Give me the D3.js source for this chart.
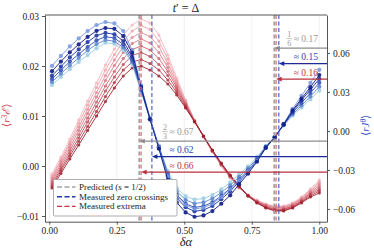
<!DOCTYPE html>
<html>
<head>
<meta charset="utf-8">
<script src="https://cdn.jsdelivr.net/npm/d3@7"></script>
<style>
  body { margin: 0; background: #fff; }
  text { font-family: "Liberation Serif", "DejaVu Serif", serif; }
</style>
</head>
<body>
<div id="chart"></div>
<script>
// sampled delta alpha values
const alphas = [0.01, 0.043, 0.076, 0.109, 0.142, 0.175, 0.208, 0.241, 0.274, 0.307,
                0.34, 0.373, 0.406, 0.439, 0.472, 0.505, 0.538, 0.571, 0.604, 0.637,
                0.67, 0.703, 0.736, 0.769, 0.802, 0.835, 0.868, 0.901, 0.934, 0.967, 1.0]

// <r J^theta> (right axis), in units of 1e-3
const blue0 = [50, 57.7, 65, 71.2, 76.9, 81.5, 83.8, 82.7, 76.9, 62, 35, 10, -13, -35, -50, -57, -60, -59, -56, -51, -45, -38, -31, -23, -13, -5, 5.5, 17, 27, 37, 47]
const blue1 = [46, 53.4, 60.5, 66.6, 72.3, 77, 79.2, 78.6, 73, 60, 34, 9, -13.7, -37.8, -55, -62.7, -66, -65, -61.6, -56, -49.5, -41, -32.9, -23.7, -13, -5, 5.2, 15.8, 24.8, 33.7, 43]
const blue2 = [42.5, 49.5, 56.6, 62.7, 68.4, 73.4, 75.4, 74.4, 69.2, 57, 33, 9.5, -13, -35.5, -51.5, -58.7, -61.8, -60.8, -57.7, -52.5, -46.4, -39, -31.5, -23, -12.7, -4.8, 5, 15, 23.5, 31.8, 40]
const blue3 = [40, 46.7, 53.3, 59.1, 64.6, 69.7, 72.5, 71.5, 66.5, 55, 32, 9.3, -12.5, -34, -49, -55.9, -58.8, -57.8, -54.9, -50, -44.1, -37.2, -30.4, -22.3, -12.5, -4.7, 4.7, 14, 21.6, 29.2, 37]
const blue4 = [37.7, 44, 50.4, 56.2, 61.9, 66.8, 70, 69, 64.2, 53, 31, 9, -12, -32.5, -46.5, -53, -55.8, -54.9, -52, -47.4, -41.9, -35.3, -28.8, -21.4, -12, -4.6, 4.5, 12.8, 19.6, 26.6, 34]
const blue5 = [35.4, 41.5, 47.5, 53.1, 58.4, 63.6, 67.9, 67, 62.3, 51.5, 30, 8.7, -11.4, -30.8, -44, -50.2, -52.8, -51.9, -49.3, -44.9, -39.6, -33.4, -27.3, -20.2, -11.4, -4.4, 4.3, 11.8, 18, 24.4, 31]

// <r^3 E> (left axis), in units of 1e-3
const red0 = [-1.6, 1.8, 5.4, 9.2, 13, 16.6, 20.2, 23.4, 26.2, 28.2, 29.4, 28.6, 26.2, 22.2, 17.6, 13.2, 9.2, 5.8, 2.8, 0, -2.4, -4.4, -5.8, -6.8, -7.6, -8, -8, -7.4, -6.2, -4.6, -2.8]
const red1 = [-2, 1.3, 4.8, 8.5, 12.2, 15.7, 19.2, 22.3, 25, 27, 28.1, 27.3, 25, 21.4, 17.1, 13, 9.1, 5.8, 2.9, 0.1, -2.3, -4.3, -5.8, -6.9, -7.7, -8.1, -8.1, -7.5, -6.4, -4.8, -3.2]
const red2 = [-2.4, 0.9, 4.3, 7.8, 11.3, 14.7, 18.1, 21.2, 23.9, 25.7, 26.7, 25.9, 23.9, 20.5, 16.6, 12.7, 9.1, 5.9, 2.9, 0.2, -2.2, -4.3, -5.9, -7, -7.8, -8.3, -8.3, -7.7, -6.5, -5.1, -3.5]
const red3 = [-2.8, 0.4, 3.7, 7.1, 10.5, 13.8, 17.1, 20.1, 22.7, 24.5, 25.4, 24.6, 22.7, 19.7, 16.1, 12.5, 9, 5.9, 3, 0.3, -2.1, -4.2, -5.9, -7.1, -7.9, -8.4, -8.4, -7.8, -6.7, -5.3, -3.9]
const red4 = [-3.2, -0.1, 3.1, 6.3, 9.6, 12.8, 16, 18.9, 21.5, 23.3, 24, 23.2, 21.5, 18.9, 15.7, 12.3, 9, 5.9, 3, 0.3, -2.1, -4.2, -5.9, -7.1, -8.1, -8.6, -8.6, -8, -6.9, -5.5, -4.3]
const red5 = [-3.6, -0.6, 2.5, 5.6, 8.8, 11.9, 15, 17.8, 20.3, 22.1, 22.7, 21.9, 20.3, 18.1, 15.2, 12.1, 8.9, 5.9, 3.1, 0.4, -2, -4.1, -5.9, -7.2, -8.2, -8.7, -8.7, -8.1, -7.1, -5.7, -4.7]
const red6 = [-4, -1, 2, 4.9, 7.9, 10.9, 13.9, 16.7, 19.2, 20.8, 21.3, 20.5, 19.2, 17.2, 14.7, 11.8, 8.9, 6, 3.1, 0.5, -1.9, -4.1, -6, -7.3, -8.3, -8.9, -8.9, -8.3, -7.2, -6, -5]
const red7 = [-4.4, -1.5, 1.4, 4.2, 7.1, 10, 12.9, 15.6, 18, 19.6, 20, 19.2, 18, 16.4, 14.2, 11.6, 8.8, 6, 3.2, 0.6, -1.8, -4, -6, -7.4, -8.4, -9, -9, -8.4, -7.4, -6.2, -5.4]

const blueSeries = [blue5, blue4, blue3, blue2, blue0, blue1]
const blueColors = ["#9ccfe4", "#5d86cc", "#3150b6", "#1d36a4", "#7898e0", "#0c1a86"]
const redSeries = [red0, red1, red2, red3, red4, red5, red6, red7]
const redColors = ["#f6b3bb", "#eea0aa", "#e48a96", "#d97582", "#cc5f6c", "#bf4856", "#b03240", "#9e1a28"]

const xTicks = [0, 0.25, 0.5, 0.75, 1]
const leftTicks = [-0.01, 0, 0.01, 0.02, 0.03]
const rightTicks = [-0.06, -0.03, 0, 0.03, 0.06]

// vertical markers
const predicted = [1 / 3, 5 / 6]
const zeroCrossings = [0.38, 0.85]
const extrema = [0.34, 0.84]

// arrows from the right edge to each marker
const arrowTargets = [5 / 6, 0.85, 0.84, 1 / 3, 0.38, 0.34]
const arrowKinds = ["grey", "blue", "red", "grey", "blue", "red"]
const arrowValues = ["0.17", "0.15", "0.16", "0.67", "0.62", "0.66"]
const arrowFractions = [["1", "6"], null, null, ["2", "3"], null, null]
const arrowLevels = [0.84, 0.765, 0.69, 0.39, 0.315, 0.24]   // axes fraction

const col = {
  grey: {line: "#8c8c8c", text: "#9a9a9a", dash: "#a3a3a3"},
  blue: {line: "#1a2b9c", text: "#2c40b8", dash: "#4f62d0"},
  red: {line: "#b8323c", text: "#c2323c", dash: "#d86a76"}
}

const W = 374, H = 249
const margin = {top: 15, right: 47, bottom: 27.3, left: 45},
      width = W - margin.left - margin.right,
      height = H - margin.top - margin.bottom

const svg = d3.select("#chart").append("svg")
    .attr("width", W).attr("height", H)
  .append("g")
    .attr("transform", `translate(${margin.left},${margin.top})`)

const x = d3.scaleLinear().domain([-0.0159, 1.0285]).range([0, width])
const yL = d3.scaleLinear().domain([-0.01114, 0.0302]).range([height, 0])
const yR = d3.scaleLinear().domain([-0.0698, 0.0892]).range([height, 0])

// grid
svg.append("g").selectAll("line")
  .data(xTicks).join("line")
    .attr("x1", d => x(d)).attr("x2", d => x(d))
    .attr("y1", 0).attr("y2", height)
    .attr("stroke", "#ececec").attr("stroke-width", 0.8)

// red curves (left axis)
const redLine = d3.line().x((d, i) => x(alphas[i])).y(d => yL(d * 1e-3))
redSeries.forEach((s, k) => {
  const g = svg.append("g").attr("opacity", 0.85)
  g.append("path").datum(s)
    .attr("fill", "none").attr("stroke", redColors[k]).attr("stroke-width", 1)
    .attr("d", redLine)
  g.selectAll("circle").data(s).join("circle")
    .attr("cx", (d, i) => x(alphas[i])).attr("cy", d => yL(d * 1e-3))
    .attr("r", 1.6).attr("fill", redColors[k])
})

// blue curves (right axis)
const blueLine = d3.line().x((d, i) => x(alphas[i])).y(d => yR(d * 1e-3))
blueSeries.forEach((s, k) => {
  const g = svg.append("g").attr("opacity", 0.9)
  g.append("path").datum(s)
    .attr("fill", "none").attr("stroke", blueColors[k]).attr("stroke-width", 1)
    .attr("d", blueLine)
  g.selectAll("circle").data(s).join("circle")
    .attr("cx", (d, i) => x(alphas[i])).attr("cy", d => yR(d * 1e-3))
    .attr("r", 2.1).attr("fill", blueColors[k])
})

// dashed vertical markers
function vlines(vals, c, w) {
  svg.append("g").selectAll("line").data(vals).join("line")
    .attr("x1", d => x(d)).attr("x2", d => x(d))
    .attr("y1", 0).attr("y2", height)
    .attr("stroke", c).attr("stroke-width", w)
    .attr("stroke-dasharray", "4,2.5")
}
vlines(predicted, col.grey.dash, 1.8)
vlines(extrema, col.red.dash, 1.2)
vlines(zeroCrossings, col.blue.dash, 1.2)

// arrows
arrowTargets.forEach((t, i) => {
  const c = col[arrowKinds[i]]
  const yy = height * (1 - arrowLevels[i])
  const xt = x(t)
  svg.append("line")
    .attr("x1", width).attr("x2", xt + 4)
    .attr("y1", yy).attr("y2", yy)
    .attr("stroke", c.line).attr("stroke-width", 1.2)
  svg.append("path")
    .attr("d", `M${xt},${yy}L${xt + 5.5},${yy - 2.4}L${xt + 5.5},${yy + 2.4}Z`)
    .attr("fill", c.line)

  const upper = i < 3
  const tx = upper ? width - 9 : x(0.43) + 4
  const ty = yy - 3.5
  const lab = svg.append("text")
    .attr("x", tx).attr("y", ty)
    .attr("text-anchor", upper ? "end" : "start")
    .attr("font-size", 9.5).attr("fill", c.text)
    .text("\u2248 " + arrowValues[i])
  const fr = arrowFractions[i]
  if (fr) {
    const bb = lab.node().getBBox()
    const fx = bb.x - 4.5
    const fy = yy - 9.5
    svg.append("text").attr("x", fx).attr("y", fy - 1.8)
      .attr("text-anchor", "middle").attr("font-size", 8).attr("fill", c.text).text(fr[0])
    svg.append("line").attr("x1", fx - 2.7).attr("x2", fx + 2.7)
      .attr("y1", fy).attr("y2", fy)
      .attr("stroke", c.text).attr("stroke-width", 0.6)
    svg.append("text").attr("x", fx).attr("y", fy + 7.5)
      .attr("text-anchor", "middle").attr("font-size", 8).attr("fill", c.text).text(fr[1])
    lab.attr("y", fy + 3)
  }
})

// axes
const fmt = d3.format(".2f")
function styleAxis(g) {
  g.select(".domain").attr("stroke", "#555")
  g.selectAll(".tick line").attr("stroke", "#555")
  g.selectAll(".tick text").attr("font-size", 9.5).attr("fill", "#222")
    .attr("font-family", "Liberation Serif, serif")
}
svg.append("g").attr("transform", `translate(0,${height})`)
  .call(d3.axisBottom(x).tickValues(xTicks).tickFormat(fmt).tickSize(3).tickSizeOuter(0).tickPadding(3))
  .call(styleAxis)
svg.append("g")
  .call(d3.axisLeft(yL).tickValues(leftTicks).tickFormat(fmt).tickSize(3).tickSizeOuter(0).tickPadding(3))
  .call(styleAxis)
svg.append("g").attr("transform", `translate(${width},0)`)
  .call(d3.axisRight(yR).tickValues(rightTicks).tickFormat(fmt).tickSize(3).tickSizeOuter(0).tickPadding(3))
  .call(styleAxis)
svg.append("line").attr("x1", 0).attr("x2", width).attr("y1", 0).attr("y2", 0)
  .attr("stroke", "#555")

// legend
const leg = svg.append("g").attr("transform", "translate(8.5,164.5)")
leg.append("rect").attr("width", 123.5).attr("height", 36.5)
  .attr("fill", "#fff").attr("stroke", "#999").attr("stroke-width", 0.8).attr("rx", 1)
const legColors = [col.grey.dash, "#1f3aa8", "#c03545"]
const legTexts = ["Predicted (", "Measured zero crossings", "Measured extrema"]
legColors.forEach((c, i) => {
  const yy = 7.5 + i * 9.7
  leg.append("line").attr("x1", 3.5).attr("x2", 22).attr("y1", yy).attr("y2", yy)
    .attr("stroke", c).attr("stroke-width", 1.4).attr("stroke-dasharray", "5,2.5")
  const t = leg.append("text").attr("x", 25.5).attr("y", yy + 3)
    .attr("font-size", 9).attr("fill", "#222").text(legTexts[i])
  if (i === 0) {
    t.append("tspan").attr("font-style", "italic").text("s")
    t.append("tspan").text(" = 1/2)")
  }
})

// titles
const title = svg.append("text").attr("x", width / 2).attr("y", -3.5)
  .attr("text-anchor", "middle").attr("font-size", 12).attr("fill", "#222")
title.append("tspan").attr("font-style", "italic").text("t")
title.append("tspan").text("\u2032 = \u0394")

svg.append("text").attr("x", width / 2).attr("y", height + 24.5)
  .attr("text-anchor", "middle").attr("font-size", 12.5).attr("font-style", "italic")
  .attr("fill", "#222").text("\u03b4\u03b1")

const ylab = svg.append("text")
  .attr("transform", `translate(${-35},${height / 2 - 3}) rotate(-90)`)
  .attr("text-anchor", "middle").attr("font-size", 11).attr("fill", "#d04a58")
ylab.append("tspan").text("\u27e8")
ylab.append("tspan").attr("font-style", "italic").text("r")
ylab.append("tspan").attr("font-size", 7.5).attr("dy", -3.5).text("3")
ylab.append("tspan").attr("dy", 3.5).attr("font-style", "italic").text("\u2130")
ylab.append("tspan").text("\u27e9")

const yrlab = svg.append("text")
  .attr("transform", `translate(${width + 42},${height / 2 + 7}) rotate(-90)`)
  .attr("text-anchor", "middle").attr("font-size", 11).attr("fill", "#3a50c8")
yrlab.append("tspan").text("\u27e8")
yrlab.append("tspan").attr("font-style", "italic").text("rJ")
yrlab.append("tspan").attr("font-size", 7.5).attr("dy", -3.5).attr("font-style", "italic").text("\u03b8")
yrlab.append("tspan").attr("dy", 3.5).text("\u27e9")
</script>
</body>
</html>
